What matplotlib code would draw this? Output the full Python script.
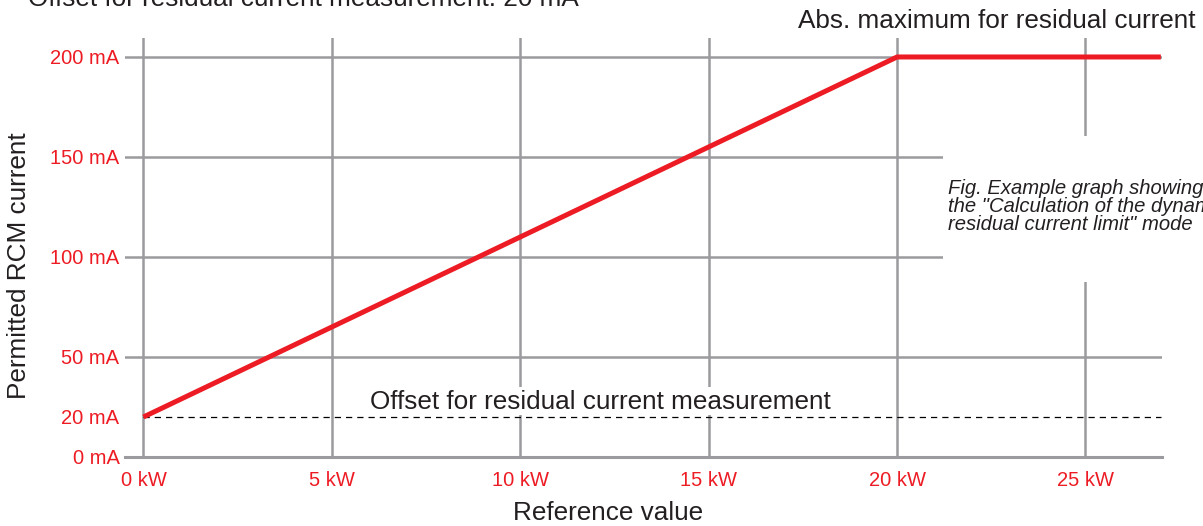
import matplotlib
matplotlib.use('Agg')
import matplotlib.pyplot as plt
from matplotlib.patches import Rectangle

plt.rcParams['font.family'] = ['Liberation Sans', 'DejaVu Sans']

# Data: permitted RCM current vs reference value
ref_kw = [0, 20, 27]
rcm_ma = [20, 200, 200]
offset_ma = 20

x_ticks = [0, 5, 10, 15, 20, 25]
x_labels = ['0 kW', '5 kW', '10 kW', '15 kW', '20 kW', '25 kW']
y_ticks = [0, 20, 50, 100, 150, 200]
y_labels = ['0 mA', '20 mA', '50 mA', '100 mA', '150 mA', '200 mA']
grid_y = [50, 100, 150, 200]

red = '#ed1c24'
gray = '#9b9b9f'
dark = '#231f20'

fig = plt.figure(figsize=(12.03, 5.26), dpi=100)
ax = fig.add_axes([0.1039, 0.1312, 0.8620, 0.7966])
ax.set_xlim(-0.49, 27.03)
ax.set_ylim(0, 209.5)

# ticks and grid (no grid line at 20 mA, so grid on minor ticks)
ax.set_xticks(x_ticks)
ax.set_xticklabels(x_labels)
ax.set_yticks(y_ticks)
ax.set_yticklabels(y_labels)
ax.yaxis.remove_overlapping_locs = False
ax.set_yticks(grid_y, minor=True)
ax.tick_params(axis='both', which='both', length=0, labelsize=14.5, labelcolor=red)
ax.tick_params(axis='x', pad=10)
ax.tick_params(axis='y', pad=4)
ax.set_axisbelow(True)
ax.grid(True, axis='x', which='major', color=gray, lw=1.8)
ax.grid(False, axis='y', which='major')
ax.grid(True, axis='y', which='minor', color=gray, lw=1.8)

for s in ['top', 'right', 'left']:
    ax.spines[s].set_visible(False)
ax.spines['bottom'].set_color(gray)
ax.spines['bottom'].set_linewidth(2.2)

# white boxes behind the annotation texts
ax.add_patch(Rectangle((5.11, 21), 13.96, 14, facecolor='white', edgecolor='none', zorder=1))
ax.add_patch(Rectangle((21.22, 87.5), 6.0, 73, facecolor='white', edgecolor='none', zorder=1))

# offset line and characteristic
ax.hlines(offset_ma, 0, ref_kw[-1], colors='black', lw=0.9, linestyles=(0, (5, 4)), zorder=2)
ax.plot(ref_kw, rcm_ma, color=red, lw=3.6, solid_capstyle='butt', zorder=3)

ax.text(6.01, 24, 'Offset for residual current measurement', fontsize=18.8,
        color=dark, va='baseline', zorder=4)

ax.set_xlabel('Reference value', fontsize=18.8, color=dark)
ax.xaxis.set_label_coords(0.466, -0.105)
ax.set_ylabel('Permitted RCM current', fontsize=18.8, color=dark)
ax.yaxis.set_label_coords(-0.091, 0.456)

fig.text(28 / 1203, 1 - 6 / 526, 'Offset for residual current measurement: 20 mA',
         fontsize=18.8, color=dark, va='baseline')
fig.text(798 / 1203, 1 - 28 / 526, 'Abs. maximum for residual current',
         fontsize=18.8, color=dark, va='baseline')
fig.text(948 / 1203, 1 - 179 / 526,
         'Fig. Example graph showing\nthe "Calculation of the dynamic\nresidual current limit" mode',
         fontsize=14.6, style='italic', color=dark, va='top', linespacing=0.92)

fig.savefig('out.png', dpi=100)
